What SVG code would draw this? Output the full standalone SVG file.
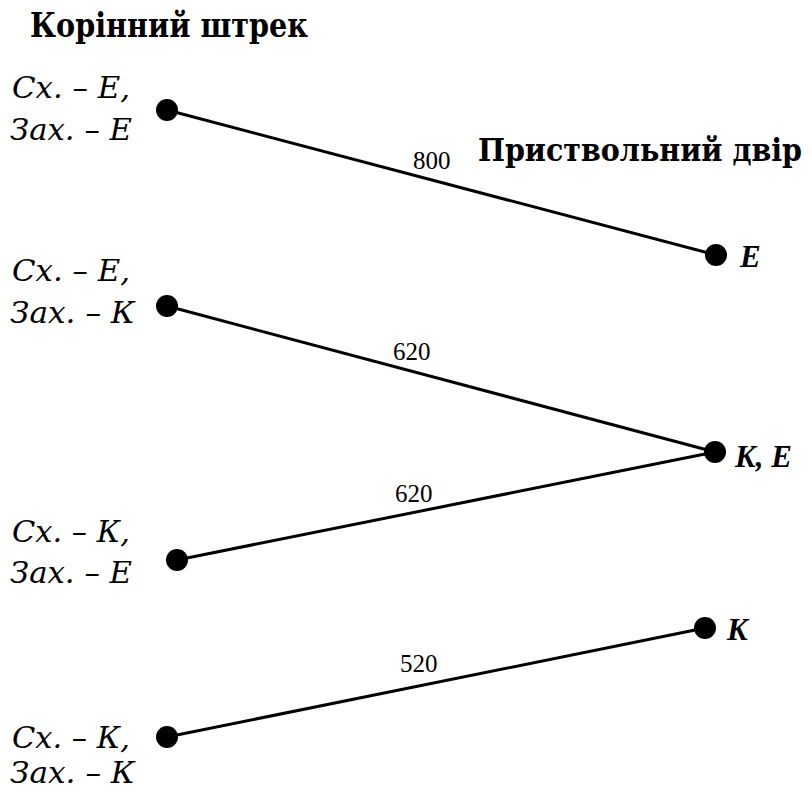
<svg xmlns="http://www.w3.org/2000/svg" width="812" height="791" viewBox="0 0 812 791">
<style>
.t{font-family:'DejaVu Serif Condensed','DejaVu Serif',serif;font-weight:bold;font-size:33px;fill:#000}
.t2{font-family:'DejaVu Serif Condensed','DejaVu Serif',serif;font-weight:bold;font-size:31px;fill:#000}
.l{font-family:'DejaVu Serif','Liberation Serif',serif;font-style:italic;font-size:30px;fill:#000}
.r{font-family:'Liberation Serif','Times New Roman',serif;font-style:italic;font-weight:bold;font-size:31px;fill:#000}
.n{font-family:'Liberation Serif','Times New Roman',serif;font-size:25px;fill:#000}
.e{stroke:#000;stroke-width:3;fill:none}
.d{fill:#000}
</style>
<rect width="812" height="791" fill="#fff"/>
<text class="t" x="30" y="37" textLength="278" lengthAdjust="spacingAndGlyphs">Корінний штрек</text>
<text class="t2" x="478" y="161" textLength="324" lengthAdjust="spacingAndGlyphs">Приствольний двір</text>
<g id="connectors">
<line class="e" x1="167" y1="110" x2="716" y2="255"/>
<text class="n" x="413" y="169">800</text>
<line class="e" x1="167" y1="306" x2="715" y2="452"/>
<text class="n" x="393" y="360">620</text>
<line class="e" x1="177" y1="560" x2="715" y2="452"/>
<text class="n" x="395" y="502">620</text>
<line class="e" x1="167" y1="737" x2="705" y2="628"/>
<text class="n" x="400" y="672">520</text>
</g>
<g id="n1"><circle class="d" cx="167" cy="110" r="11"/><text class="l" x="12" y="98" textLength="118" lengthAdjust="spacingAndGlyphs">Сх. – Е,</text><text class="l" x="10" y="140" textLength="122" lengthAdjust="spacingAndGlyphs">Зах. – Е</text></g>
<g id="n2"><circle class="d" cx="167" cy="306" r="11"/><text class="l" x="12" y="281" textLength="118" lengthAdjust="spacingAndGlyphs">Сх. – Е,</text><text class="l" x="10" y="323" textLength="125" lengthAdjust="spacingAndGlyphs">Зах. – К</text></g>
<g id="n3"><circle class="d" cx="177" cy="560" r="11"/><text class="l" x="12" y="542" textLength="118" lengthAdjust="spacingAndGlyphs">Сх. – К,</text><text class="l" x="10" y="583" textLength="122" lengthAdjust="spacingAndGlyphs">Зах. – Е</text></g>
<g id="n4"><circle class="d" cx="167" cy="737" r="11"/><text class="l" x="12" y="748" textLength="118" lengthAdjust="spacingAndGlyphs">Сх. – К,</text><text class="l" x="10" y="783" textLength="125" lengthAdjust="spacingAndGlyphs">Зах. – К</text></g>
<g id="n5"><circle class="d" cx="716" cy="255" r="11"/><text class="r" x="740" y="267">E</text></g>
<g id="n6"><circle class="d" cx="715" cy="452" r="11"/><text class="r" x="735" y="467">K, E</text></g>
<g id="n7"><circle class="d" cx="705" cy="628" r="11"/><text class="r" x="727" y="640">K</text></g>
</svg>
